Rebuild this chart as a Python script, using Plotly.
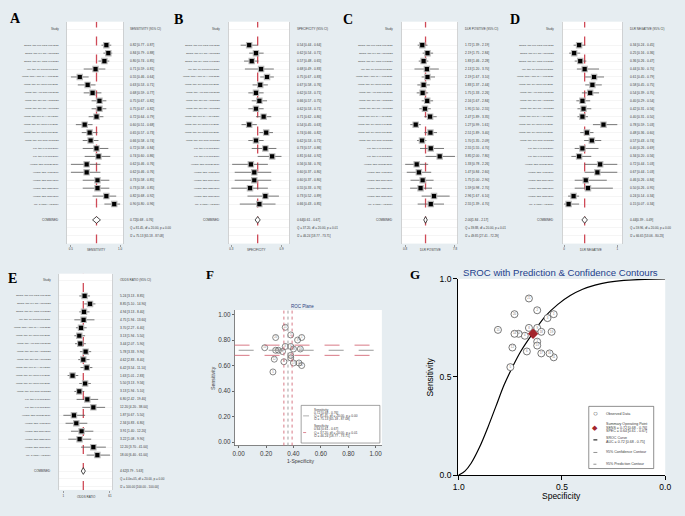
import math
import plotly.graph_objects as go

W, H = 685, 516
def fx(p): return p / W
def fy(p): return 1 - p / H

# ---------------- data ----------------
studies = [
    "Zhang, tRF-Pro-TGG-001/2021", "Zhang, tRF-Tyr-GTA-010/2021", "Zhang, tRF-Gly-CCC-046/2021",
    "Wu, tRF-17-79MP9PP/2021", "Wang, tRNA-Phe-GAA-003/2021", "Wang, tRF-Gly-CCC-001/2021",
    "Wang, tRF-Arg-CCT-017/2021", "Wang, tRF-Ser-TGA-002/2020", "Wang, tRF-Ser-TGA-001/2020",
    "Wang, tRF-Leu-CAA-004/2020", "Wang, tRF-Gly-CCC-046/2020", "Wang, tRF-Gly-CCC-007/2020",
    "Wang, tRF-Glu-CTC-003/2020", "Kin, tRF-Lys-TTT/2019", "Kin, tRF-Lys-TTT/2019",
    "Huang, tDR-000620/2019", "Huang, tDR-4733/2019", "Huang, tDR-5334/2019",
    "Huang, tDR-0256/2019", "Huang, tDR-7816/2019", "Mo, 3'-tiRNA-Val/2019",
]
study_no = [str(i) for i in range(1, 22)]

sens    = [0.82, 0.84, 0.80, 0.71, 0.55, 0.63, 0.68, 0.75, 0.75, 0.72, 0.60, 0.65, 0.66, 0.72, 0.74, 0.62, 0.62, 0.73, 0.73, 0.82, 0.90]
sens_lo = [0.77, 0.79, 0.74, 0.59, 0.46, 0.53, 0.59, 0.67, 0.67, 0.64, 0.51, 0.57, 0.58, 0.58, 0.60, 0.46, 0.46, 0.58, 0.58, 0.68, 0.80]
sens_hi = [0.87, 0.88, 0.85, 0.81, 0.64, 0.71, 0.77, 0.82, 0.82, 0.79, 0.68, 0.73, 0.74, 0.84, 0.86, 0.76, 0.76, 0.85, 0.85, 0.92, 0.96]
sens_pool = [0.72, 0.68, 0.76]
sens_stats = ["Q = 81.45, df = 20.00, p = 0.00", "I2 = 75.13 [65.18 - 87.08]"]

spec    = [0.54, 0.62, 0.57, 0.68, 0.75, 0.67, 0.62, 0.66, 0.62, 0.71, 0.54, 0.74, 0.62, 0.73, 0.81, 0.56, 0.60, 0.60, 0.55, 0.73, 0.66]
spec_lo = [0.44, 0.54, 0.48, 0.49, 0.67, 0.58, 0.53, 0.57, 0.53, 0.62, 0.45, 0.66, 0.53, 0.57, 0.64, 0.34, 0.37, 0.37, 0.33, 0.52, 0.43]
spec_hi = [0.64, 0.71, 0.65, 0.83, 0.83, 0.76, 0.71, 0.75, 0.71, 0.80, 0.63, 0.82, 0.71, 0.86, 0.92, 0.76, 0.80, 0.80, 0.76, 0.89, 0.85]
spec_pool = [0.64, 0.61, 0.67]
spec_stats = ["Q = 37.20, df = 20.00, p = 0.01", "I2 = 46.24 [18.77 - 73.71]"]

plr    = [1.72, 2.19, 1.83, 2.13, 2.19, 1.83, 1.75, 2.16, 1.95, 2.47, 1.27, 2.51, 1.70, 2.55, 3.85, 1.33, 1.47, 1.75, 1.59, 2.96, 2.55]
plr_lo = [1.39, 1.75, 1.46, 1.20, 1.67, 1.37, 1.33, 1.67, 1.50, 1.89, 0.99, 1.89, 1.35, 1.55, 2.00, 0.78, 0.84, 1.00, 0.98, 1.67, 1.39]
plr_hi = [2.19, 2.84, 2.28, 3.70, 3.10, 2.44, 2.26, 2.84, 2.55, 3.35, 1.61, 3.40, 2.09, 4.70, 7.80, 2.26, 2.60, 2.90, 2.70, 6.10, 4.70]
plr_pool = [2.00, 1.84, 2.17]
plr_stats = ["Q = 39.88, df = 20.00, p = 0.01", "I2 = 49.85 [27.41 - 72.29]"]

nlr    = [0.34, 0.25, 0.36, 0.44, 0.61, 0.58, 0.54, 0.40, 0.42, 0.40, 0.78, 0.48, 0.57, 0.40, 0.34, 0.72, 0.67, 0.46, 0.50, 0.24, 0.15]
nlr_lo = [0.24, 0.16, 0.26, 0.30, 0.45, 0.45, 0.39, 0.29, 0.31, 0.31, 0.59, 0.36, 0.43, 0.26, 0.20, 0.44, 0.44, 0.26, 0.26, 0.14, 0.07]
nlr_hi = [0.45, 0.36, 0.47, 0.70, 0.79, 0.75, 0.70, 0.54, 0.56, 0.50, 1.03, 0.60, 0.74, 0.69, 0.56, 1.03, 1.03, 0.84, 0.95, 0.34, 0.34]
nlr_pool = [0.44, 0.39, 0.49]
nlr_stats = ["Q = 59.96, df = 20.00, p = 0.00", "I2 = 66.65 [53.06 - 80.23]"]

dor    = [5.24, 8.85, 4.94, 4.75, 3.70, 3.13, 3.44, 5.78, 4.62, 6.42, 1.63, 5.50, 3.13, 6.80, 12.20, 1.87, 2.34, 3.91, 3.22, 12.20, 18.00]
dor_lo = [3.13, 5.10, 3.13, 1.94, 2.27, 1.94, 2.07, 3.33, 2.83, 3.54, 1.01, 3.13, 1.94, 2.42, 4.20, 0.67, 0.83, 1.40, 1.08, 3.70, 6.40]
dor_hi = [8.85, 14.90, 8.40, 13.60, 6.40, 5.50, 5.90, 9.90, 8.40, 11.10, 2.83, 9.56, 5.10, 19.40, 38.00, 5.50, 6.80, 12.20, 9.90, 41.00, 61.00]
dor_pool = [4.62, 3.79, 5.63]
dor_stats = ["Q = 4.0e+05, df = 20.00, p = 0.00", "I2 = 100.00 [100.00 - 100.00]"]

sroc_spec = [1.00, 0.97, 0.94, 0.90, 0.86, 0.82, 0.78, 0.74, 0.70, 0.64, 0.58, 0.52, 0.46, 0.40, 0.34, 0.28, 0.20, 0.10, 0.00]
sroc_sens = [0.00, 0.02, 0.06, 0.14, 0.24, 0.35, 0.46, 0.55, 0.63, 0.725, 0.81, 0.87, 0.915, 0.947, 0.968, 0.982, 0.992, 0.998, 1.00]
auc_text = "AUC = 0.72 [0.68 - 0.75]"

# ---------------- figure ----------------
BG = "#e6edf1"
TXT = "#3a3a3a"
SANS = "Liberation Sans"
RED = "#cf4a57"

fig = go.Figure()
annots, shapes = [], []
layout_axes = {}

def ann(text, x, y, xref="paper", yref="paper", size=3.2, xa="center", ya="middle",
        color=TXT, family=SANS, angle=0):
    annots.append(dict(text=text, x=x, y=y, xref=xref, yref=yref, showarrow=False,
                       xanchor=xa, yanchor=ya, textangle=angle,
                       font=dict(size=size, color=color, family=family)))

panels = [
    dict(L="A", v=sens, lo=sens_lo, hi=sens_hi, pool=sens_pool, stats=sens_stats,
         head="SENSITIVITY (95% CI)", xt="SENSITIVITY", tt=["0.5", "1.0"], log=False,
         wl=63, wr=120, top=17, bot=243.3, r0=41, step=8.1, tlo=67, thi=117, lx=11, ly=14),
    dict(L="B", v=spec, lo=spec_lo, hi=spec_hi, pool=spec_pool, stats=spec_stats,
         head="SPECIFICITY (95% CI)", xt="SPECIFICITY", tt=["0.3", "0.9"], log=False,
         wl=227.3, wr=289, top=17, bot=243.3, r0=41, step=8.1, tlo=230, thi=281, lx=176, ly=15),
    dict(L="C", v=plr, lo=plr_lo, hi=plr_hi, pool=plr_pool, stats=plr_stats,
         head="DLR POSITIVE (95% CI)", xt="DLR POSITIVE", tt=["0.8", "7.8"], log=True,
         wl=403.3, wr=460, top=17, bot=243.3, r0=41, step=8.1, tlo=406.7, thi=457.3, lx=349, ly=15),
    dict(L="D", v=nlr, lo=nlr_lo, hi=nlr_hi, pool=nlr_pool, stats=nlr_stats,
         head="DLR NEGATIVE (95% CI)", xt="DLR NEGATIVE", tt=["0", "1"], log=False,
         wl=566.7, wr=627.3, top=17, bot=243.3, r0=41, step=8.1, tlo=568.3, thi=622.3, lx=518, ly=15),
    dict(L="E", v=dor, lo=dor_lo, hi=dor_hi, pool=dor_pool, stats=dor_stats,
         head="ODDS RATIO (95% CI)", xt="ODDS RATIO", tt=["1", "61"], log=True,
         wl=55, wr=109, top=274, bot=494.5, r0=296.7, step=8.115, tlo=59.3, thi=106.7, lx=8, ly=279),
]

for i, p in enumerate(panels):
    k = i + 1
    xa = "x" if k == 1 else f"x{k}"
    ya = "y" if k == 1 else f"y{k}"
    xkey = "xaxis" if k == 1 else f"xaxis{k}"
    ykey = "yaxis" if k == 1 else f"yaxis{k}"
    f = math.log10 if p["log"] else (lambda z: z)
    lo_all, hi_all = min(p["lo"]), max(p["hi"])
    s = (f(hi_all) - f(lo_all)) / (p["thi"] - p["tlo"])
    xr = [f(lo_all) - (p["tlo"] - p["wl"]) * s, f(hi_all) + (p["wr"] - p["thi"]) * s]
    n = len(p["v"])
    yr = [(p["bot"] - p["r0"]) / p["step"], (p["top"] - p["r0"]) / p["step"]]
    rows = list(range(n))
    crow = n + 1

    fig.add_trace(go.Scatter(x=[p["pool"][0], p["pool"][0]], y=[yr[0], yr[1]], mode="lines",
                             line=dict(color=RED, dash="dash", width=1.3),
                             xaxis=xa, yaxis=ya, hoverinfo="skip"))
    # weight squares (grey) behind the point estimates
    fig.add_trace(go.Scatter(
        x=p["v"], y=rows, mode="markers",
        marker=dict(symbol="square", size=6.5, color="#b9b9b9"),
        error_x=dict(type="data", symmetric=False,
                     array=[h - v for h, v in zip(p["hi"], p["v"])],
                     arrayminus=[v - l for v, l in zip(p["v"], p["lo"])],
                     color="#555555", thickness=0.8, width=0),
        xaxis=xa, yaxis=ya))
    fig.add_trace(go.Scatter(
        x=p["v"], y=rows, mode="markers",
        marker=dict(symbol="square", size=4.2, color="black"),
        xaxis=xa, yaxis=ya))
    c, clo, chi = p["pool"]
    fig.add_trace(go.Scatter(x=[clo, c, chi, c, clo], y=[crow, crow - 0.42, crow, crow + 0.42, crow],
                             mode="lines", fill="toself", fillcolor="white",
                             line=dict(color="black", width=0.7), xaxis=xa, yaxis=ya))

    layout_axes[xkey] = dict(domain=[fx(p["wl"]), fx(p["wr"])], range=xr,
                             type="log" if p["log"] else "linear",
                             tickvals=[lo_all, hi_all], ticktext=p["tt"],
                             ticks="outside", ticklen=2, tickwidth=0.6, tickcolor="#666",
                             tickfont=dict(size=3, color=TXT, family=SANS),
                             showgrid=False, zeroline=False, showline=False, anchor=ya, fixedrange=True)
    layout_axes[ykey] = dict(domain=[fy(p["bot"]), fy(p["top"])], range=yr,
                             tickvals=[-2] + rows + [crow, crow + 1, crow + 2],
                             showticklabels=False, ticks="", showgrid=True,
                             gridcolor="#ececec", gridwidth=0.5, zeroline=False,
                             showline=True, mirror=True, linecolor="#bdbdbd", linewidth=0.6,
                             anchor=xa, fixedrange=True)

    nx = p["wl"] - 6.5
    vx = p["wr"] + 5.5
    ann(f"<b>{p['L']}</b>", fx(p["lx"]), fy(p["ly"]), size=14, family="Liberation Serif", color="black")
    ann("Study", fx(nx), -2, yref=ya, xa="right", size=3)
    ann(p["head"], fx(vx), -2, yref=ya, xa="left", size=3)
    for j in range(n):
        ann(studies[j], fx(nx), j, yref=ya, xa="right", size=2.5)
        ann(f"{p['v'][j]:.2f} [{p['lo'][j]:.2f} - {p['hi'][j]:.2f}]", fx(vx), j, yref=ya, xa="left", size=3.2)
    ann("COMBINED", fx(nx), crow, yref=ya, xa="right", size=3)
    ann(f"{c:.2f}[{clo:.2f} - {chi:.2f}]", fx(vx), crow, yref=ya, xa="left", size=3.2)
    ann(p["stats"][0], fx(vx), crow + 1, yref=ya, xa="left", size=3)
    ann(p["stats"][1], fx(vx), crow + 2, yref=ya, xa="left", size=3)
    ann(p["xt"], fx((p["tlo"] + p["thi"]) / 2), fy(p["bot"] + 7), size=3)

# ---------------- F : ROC plane ----------------
one_minus_spec = [1 - s for s in spec]
fig.add_trace(go.Scatter(x=one_minus_spec, y=sens, mode="markers+text", text=study_no,
                         textposition="middle center", textfont=dict(size=2.6, color="#777777"),
                         marker=dict(symbol="circle", size=6, color="rgba(255,255,255,0)",
                                     line=dict(color="#555555", width=0.7)),
                         xaxis="x6", yaxis="y6"))
layout_axes["xaxis6"] = dict(domain=[fx(233.3), fx(383)], range=[-0.03, 1.045], tick0=0, dtick=0.2,
                             tickformat=".2f", ticks="outside", ticklen=2, tickcolor="#666",
                             tickfont=dict(size=6.3, color=TXT, family=SANS), showline=True,
                             linecolor="#666", linewidth=0.8, showgrid=False, zeroline=False, anchor="y6")
layout_axes["yaxis6"] = dict(domain=[fy(449.3), fy(311)], range=[-0.028, 1.036], tick0=0, dtick=0.2,
                             tickformat=".2f", ticks="outside", ticklen=2, tickcolor="#666",
                             tickfont=dict(size=6.3, color=TXT, family=SANS), showline=True,
                             linecolor="#666", linewidth=0.8, showgrid=False, zeroline=False, anchor="x6")
shapes.append(dict(type="line", xref="x6", yref="y6", x0=0, x1=1, y0=sens_pool[0], y1=sens_pool[0],
                   line=dict(color="#9a9a9a", dash="longdash", width=1)))
for yv in sens_pool[1:]:
    shapes.append(dict(type="line", xref="x6 domain", yref="y6", x0=0, x1=1, y0=yv, y1=yv,
                       line=dict(color="#d46a78", dash="longdash", width=0.9)))
shapes.append(dict(type="line", xref="x6", yref="y6 domain", x0=1 - spec_pool[0], x1=1 - spec_pool[0],
                   y0=0, y1=1, line=dict(color="#a0a0a0", dash="dot", width=1)))
for sv in spec_pool[1:]:
    shapes.append(dict(type="line", xref="x6", yref="y6 domain", x0=1 - sv, x1=1 - sv, y0=0, y1=1,
                       line=dict(color="#d46a78", dash="dot", width=0.9)))
ann("<b>F</b>", fx(208), fy(275), size=13, family="Liberation Serif", color="black")
ann("ROC Plane", fx(302), fy(307.5), size=4.5, color="#2a3f7f")
ann("1-Specificity", fx(300.7), fy(465), size=5)
ann("Sensitivity", fx(210.7), fy(380), size=5.2, angle=-90)
shapes.append(dict(type="rect", xref="paper", yref="paper", x0=fx(301), x1=fx(381), y0=fy(408.3), y1=fy(446.7),
                   line=dict(color="#666", width=0.6), fillcolor="white", layer="above"))
shapes.append(dict(type="line", xref="paper", yref="paper", x0=fx(303), x1=fx(309), y0=fy(419), y1=fy(419),
                   line=dict(color="#9a9a9a", width=0.8), layer="above"))
shapes.append(dict(type="line", xref="paper", yref="paper", x0=fx(303), x1=fx(309), y0=fy(436), y1=fy(436),
                   line=dict(color="#d46a78", width=0.8, dash="dot"), layer="above"))
f_leg = ["Sensitivity", f"{sens_pool[0]:.2f} [{sens_pool[1]:.2f} - {sens_pool[2]:.2f}]", sens_stats[0], sens_stats[1],
         "Specificity", f"{spec_pool[0]:.2f} [{spec_pool[1]:.2f} - {spec_pool[2]:.2f}]", spec_stats[0], spec_stats[1]]
f_leg_y = [412.5, 415.8, 419.1, 422.4, 429.5, 432.8, 436.1, 439.4]
for t, yy in zip(f_leg, f_leg_y):
    ann(t, fx(312.5), fy(yy), xa="left", size=3.2)

# ---------------- G : SROC ----------------
fig.add_trace(go.Scatter(x=sroc_spec, y=sroc_sens, mode="lines",
                         line=dict(color="black", width=1.2, shape="spline"),
                         xaxis="x7", yaxis="y7"))
fig.add_trace(go.Scatter(x=spec, y=sens, mode="markers+text", text=study_no,
                         textposition="middle center", textfont=dict(size=2.8, color="#777777"),
                         marker=dict(symbol="circle", size=7, color="white",
                                     line=dict(color="#555555", width=0.8)),
                         xaxis="x7", yaxis="y7"))
fig.add_trace(go.Scatter(x=[spec_pool[0]], y=[sens_pool[0]], mode="markers",
                         marker=dict(symbol="diamond", size=8, color="#a3262c"),
                         xaxis="x7", yaxis="y7"))
layout_axes["xaxis7"] = dict(domain=[fx(460.5), fx(671)], range=[1.003, 0.0], tickvals=[1, 0.5, 0],
                             ticktext=["1.0", "0.5", "0.0"], ticks="outside", ticklen=4, tickcolor="black",
                             tickfont=dict(size=8.5, color="black", family=SANS), showline=True,
                             linecolor="black", linewidth=1, showgrid=False, zeroline=False, anchor="y7")
layout_axes["yaxis7"] = dict(domain=[fy(479.3), fy(279.3)], range=[0, 1], tickvals=[0, 0.5, 1],
                             ticktext=["0.0", "0.5", "1.0"], ticks="outside", ticklen=4, tickcolor="black",
                             tickfont=dict(size=8.5, color="black", family=SANS), showline=True,
                             linecolor="black", linewidth=1, showgrid=False, zeroline=False, anchor="x7")
ann("<b>G</b>", fx(417), fy(275), size=13, family="Liberation Serif", color="black")
ann("SROC with Prediction & Confidence Contours", fx(565), fy(273), size=9.6, color="#24418c")
ann("Specificity", fx(566), fy(501), size=8.5, color="black")
ann("Sensitivity", fx(431.5), fy(379.3), size=8.5, color="black", angle=-90)
shapes.append(dict(type="rect", xref="paper", yref="paper", x0=fx(593.3), x1=fx(659.3), y0=fy(409.3), y1=fy(472.7),
                   line=dict(color="#444", width=0.6), fillcolor="white", layer="above"))
ann("○", fx(600), fy(416.7), size=8, color="#444")
ann("◆", fx(600), fy(431), size=7, color="#a3262c")
shapes.append(dict(type="line", xref="paper", yref="paper", x0=fx(598), x1=fx(602), y0=fy(443.5), y1=fy(443.5),
                   line=dict(color="black", width=1), layer="above"))
shapes.append(dict(type="line", xref="paper", yref="paper", x0=fx(598), x1=fx(602), y0=fy(456.3), y1=fy(456.3),
                   line=dict(color="#777", width=0.8), layer="above"))
shapes.append(dict(type="line", xref="paper", yref="paper", x0=fx(598), x1=fx(602), y0=fy(468.3), y1=fy(468.3),
                   line=dict(color="#777", width=0.8, dash="dot"), layer="above"))
g_leg = [("Observed Data", 416.7),
         ("Summary Operating Point", 427.3),
         (f"SENS = {sens_pool[0]:.2f} [{sens_pool[1]:.2f} - {sens_pool[2]:.2f}]", 431),
         (f"SPEC = {spec_pool[0]:.2f} [{spec_pool[1]:.2f} - {spec_pool[2]:.2f}]", 434.7),
         ("SROC Curve", 441.7), (auc_text, 445.5),
         ("95% Confidence Contour", 456.3), ("95% Prediction Contour", 468.3)]
for t, yy in g_leg:
    ann(t, fx(608.3), fy(yy), xa="left", size=3.6)

fig.update_layout(
    width=W, height=H, autosize=False, margin=dict(l=0, r=0, t=0, b=0, pad=0),
    paper_bgcolor=BG, plot_bgcolor="white", showlegend=False, hovermode=False,
    annotations=annots, shapes=shapes, font=dict(family=SANS), **layout_axes,
)
fig.write_html("out.html", config={"displayModeBar": False, "staticPlot": True},
               post_script="document.body.style.margin='0px';")
